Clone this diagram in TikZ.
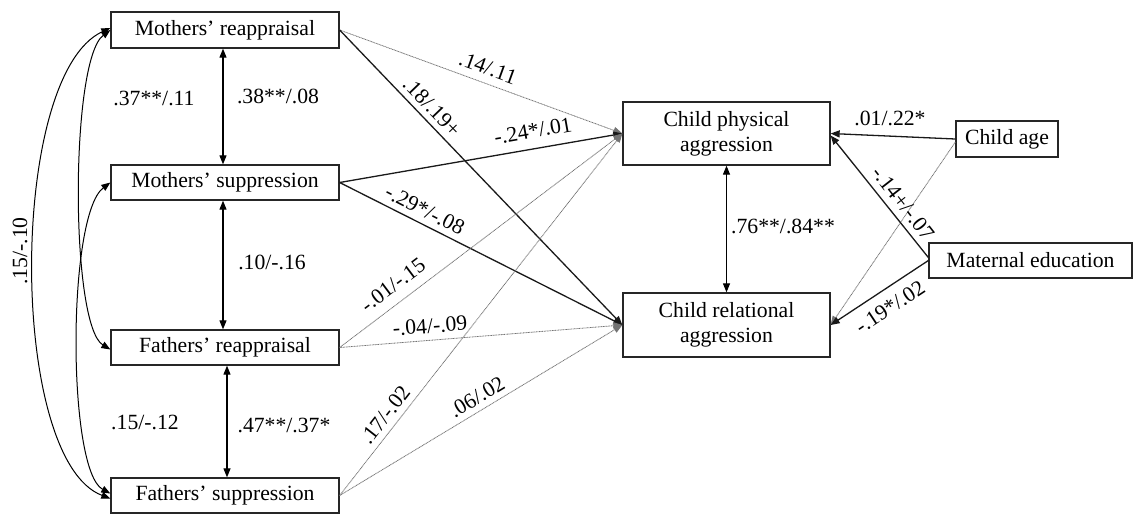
\documentclass[tikz,border=0pt]{standalone}
\usepackage{fontspec}
\setmainfont{Liberation Serif}
\newfontfamily\lserif{Liberation Serif}
\usetikzlibrary{arrows.meta}
\begin{document}
\begin{tikzpicture}[x=1pt,y=-1pt,
  box/.style={draw=black!85,line width=1.3pt,inner sep=0pt,align=center,font=\lserif\fontsize{21.7}{25}\selectfont},
  lbl/.style={inner sep=0pt,font=\lserif\fontsize{21.7}{25}\selectfont},
  tip/.style={-{Triangle[length=9pt,width=7pt]}},
  dtip/.style={{Triangle[length=9pt,width=7pt]}-{Triangle[length=9pt,width=7pt]}},
  sig/.style={tip,line width=1.3pt,black!90},
  ns/.style={tip,line width=0.8pt,black!55,dash pattern=on 1pt off 0.6pt},
  cov/.style={dtip,line width=1.1pt,black}]
\useasboundingbox (0,0) rectangle (1134,515);
% boxes
\node[box,minimum width=228pt,minimum height=36pt] (MR) at (225,30) {Mothers’ reappraisal};
\node[box,minimum width=228pt,minimum height=35pt] (MS) at (225,182.5) {Mothers’ suppression};
\node[box,minimum width=228pt,minimum height=35pt] (FR) at (225,347.5) {Fathers’ reappraisal};
\node[box,minimum width=228pt,minimum height=35pt] (FS) at (225,495.5) {Fathers’ suppression};
\node[box,minimum width=207pt,minimum height=63pt] (CPA) at (726.5,133.5) {Child physical\\aggression};
\node[box,minimum width=207pt,minimum height=64pt] (CRA) at (726.5,325) {Child relational\\aggression};
\node[box,minimum width=102pt,minimum height=36pt] (CA) at (1007,139) {Child age};
\node[box,minimum width=203pt,minimum height=35pt] (ME) at (1030.5,260.5) {Maternal education};
% vertical covariances
\draw[cov] (MR.south -| 223,0) -- (MS.north -| 223,0);
\draw[cov] (MS.south -| 223,0) -- (FR.north -| 223,0);
\draw[cov] (FR.south -| 227,0) -- (FS.north -| 227,0);
\draw[cov] (CPA.south) -- (CRA.north);
% curved covariances
\draw[cov,line width=1pt] ([yshift=2pt]MR.west) .. controls (8,75) and (8,460) .. ([yshift=-3pt]FS.west);
\draw[cov,line width=1pt] (MR.west) .. controls (70,60) and (70,325) .. ([yshift=-2pt]FR.west);
\draw[cov,line width=1pt] (MS.west) .. controls (67,215) and (67,470) .. ([yshift=2pt]FS.west);
% paths to outcomes
\draw[ns] (MR.east) -- (CPA.west);
\draw[sig] (MR.east) -- (CRA.west);
\draw[sig] (MS.east) -- (CPA.west);
\draw[sig] (MS.east) -- (CRA.west);
\draw[ns] (FR.east) -- (CPA.west);
\draw[ns] (FR.east) -- (CRA.west);
\draw[ns] (FS.east) -- (CPA.west);
\draw[ns] (FS.east) -- (CRA.west);
\draw[sig] (CA.west) -- (CPA.east);
\draw[ns] ([yshift=-3pt]CA.west) -- (CRA.east);
\draw[sig] ([yshift=3pt]ME.west) -- ([yshift=-2pt]CPA.east);
\draw[sig] (ME.west) -- (CRA.east);
% labels
\node[lbl] (c1) at (154,98) {.37**/.11};
\node[lbl] (c2) at (278,96) {.38**/.08};
\node[lbl] (c3) at (272,262) {.10/-.16};
\node[lbl] (c4) at (145,422) {.15/-.12};
\node[lbl] (c5) at (284,425) {.47**/.37*};
\node[lbl,rotate=90] (c6) at (20,251) {.15/-.10};
\node[lbl] (c7) at (783,226) {.76**/.84**};
\node[lbl,rotate=-20] (p1) at (488,68) {.14/.11};
\node[lbl,rotate=-46] (p2) at (432,107) {.18/.19+};
\node[lbl,rotate=10] (p3) at (533,131) {-.24*/.01};
\node[lbl,rotate=-27] (p4) at (425,210) {-.29*/-.08};
\node[lbl,rotate=37] (p5) at (393,285) {-.01/-.15};
\node[lbl,rotate=4.5] (p6) at (430,326) {-.04/-.09};
\node[lbl,rotate=52] (p7) at (385,415) {.17/-.02};
\node[lbl,rotate=31] (p8) at (477,397) {.06/.02};
\node[lbl] (q1) at (890,118) {.01/.22*};
\node[lbl,rotate=-52] (q2) at (903,203) {-.14+/-.07};
\node[lbl,rotate=33.5] (q3) at (890,307) {-.19*/.02};
\end{tikzpicture}
\end{document}
